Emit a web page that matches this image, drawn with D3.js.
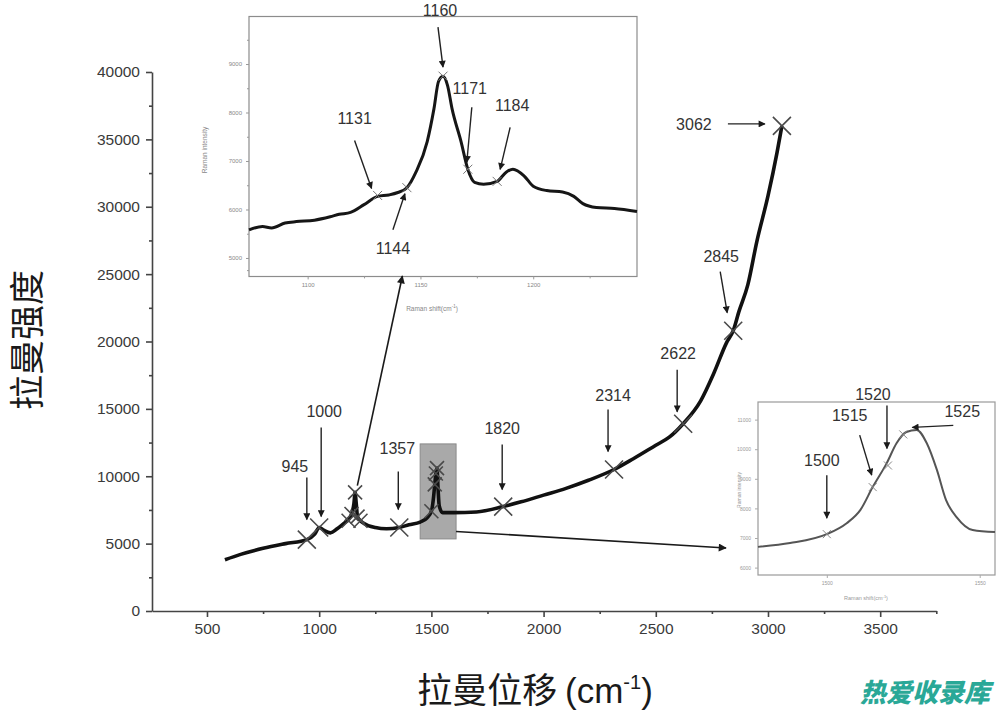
<!DOCTYPE html>
<html><head><meta charset="utf-8">
<script src="https://cdn.jsdelivr.net/npm/d3@7"></script>
<style>body{margin:0;background:#fff}svg{display:block}</style>
</head><body>
<svg id="c" width="1000" height="722"></svg>
<script>
// ---------- DATA ----------
// main spectrum (Raman shift cm-1, intensity)
const mainShift = [580,650,750,850,945,980,1000,1020,1050,1080,1110,1131,1144,1155,1160,1165,1171,1184,1200,1250,1300,1357,1400,1450,1480,1500,1510,1515,1520,1525,1530,1535,1550,1600,1700,1820,1900,2000,2100,2200,2314,2400,2500,2560,2622,2700,2760,2815,2845,2870,2910,2950,3000,3040,3062];
const mainIntensity = [3800,4200,4650,5000,5300,5700,6200,6000,5800,6100,6500,6800,7200,8000,8800,8000,7000,6700,6500,6200,6100,6200,6400,6600,6900,7400,8500,9400,10200,10600,9000,7800,7300,7300,7350,7750,8100,8600,9100,9700,10500,11300,12300,12900,13900,15600,17700,19900,20800,22200,24200,27400,30800,34000,36000];
// marked peaks on main chart
const peakShift = [945,1000,1131,1144,1160,1171,1184,1357,1500,1515,1520,1525,1820,2314,2622,2845,3062];
const peakIntensity = [5300,6200,6700,7200,8800,7000,6700,6200,7400,9400,10200,10600,7750,10500,13900,20800,36000];
const labeledPeaks = ["945","1000","1357","1820","2314","2622","2845","3062"];
const xTicks = [500,1000,1500,2000,2500,3000,3500];
const yTicks = [0,5000,10000,15000,20000,25000,30000,35000,40000];

// inset 1 (1074-1246 cm-1)
const in1Shift = [1074,1080,1084,1090,1095,1103,1110,1114,1119,1125,1131,1136,1140,1144,1148,1153,1156,1158,1160,1162,1164,1168,1171,1174,1178,1184,1188,1191,1196,1200,1206,1213,1218,1222,1228,1236,1246];
const in1Intensity = [5580,5650,5620,5720,5750,5780,5850,5900,5940,6100,6270,6300,6350,6450,6770,7400,8080,8640,8750,8560,8080,7400,6830,6560,6520,6580,6770,6830,6690,6480,6390,6360,6270,6120,6040,6020,5960];
const in1Peaks = ["1131","1144","1160","1171","1184"];
const in1PeakShift = [1131,1144,1160,1171,1184];
const in1PeakIntensity = [6290,6450,8750,6830,6580];
const in1XTicks = [1100,1150,1200];
const in1YTicks = [5000,6000,7000,8000,9000];

// inset 2 (1477-1555 cm-1)
const in2Shift = [1477.5,1488,1500,1506.5,1511,1515,1519.6,1522.8,1526,1529.4,1532.7,1536,1539,1542.5,1547.7,1555];
const in2Intensity = [6700,6830,7130,7500,7950,8720,9530,10200,10580,10650,10200,9300,8280,7700,7270,7200];
const in2Peaks = ["1500","1515","1520","1525"];
const in2PeakShift = [1500,1515,1520,1525];
const in2PeakIntensity = [7130,8720,9450,10500];
const in2XTicks = [1500,1550];
const in2YTicks = [6000,7000,8000,9000,10000,11000];

// ---------- LAYOUT ----------
const svg = d3.select('#c');
const defs = svg.append('defs');
function arrowDef(id,w,h,color){
  defs.append('marker').attr('id',id).attr('viewBox','0 0 10 10').attr('refX',9).attr('refY',5)
    .attr('markerWidth',w).attr('markerHeight',h).attr('markerUnits','userSpaceOnUse').attr('orient','auto')
    .append('path').attr('d','M0,0L10,5L0,10z').attr('fill',color);
}
arrowDef('ah',11,8,'#1a1a1a');
arrowDef('ahs',8,7,'#1a1a1a');

const FONT = "'Liberation Sans', Arial, sans-serif";
const CJK = "'Noto Sans CJK SC', sans-serif";

const x = d3.scaleLinear().domain([255,3750]).range([152,936.3]);
const y = d3.scaleLinear().domain([0,40000]).range([611,72]);

function xMark(g, cx, cy, s, color, w){
  g.append('path').attr('d',`M${cx-s},${cy-s}L${cx+s},${cy+s}M${cx-s},${cy+s}L${cx+s},${cy-s}`)
   .attr('stroke',color).attr('stroke-width',w).attr('fill','none');
}

// main axes
const gx = svg.append('g').attr('transform','translate(0,611)')
  .call(d3.axisBottom(x).tickValues(xTicks).tickSize(6).tickSizeOuter(0).tickPadding(6).tickFormat(d3.format('d')));
const gxm = svg.append('g').attr('transform','translate(0,611)')
  .call(d3.axisBottom(x).tickValues(d3.range(750,3751,500)).tickSize(3).tickSizeOuter(0).tickFormat(''));
gxm.select('.domain').remove();
const gy = svg.append('g').attr('transform','translate(152,0)')
  .call(d3.axisLeft(y).tickValues(yTicks).tickSize(6).tickSizeOuter(0).tickPadding(6).tickFormat(d3.format('d')));
const gym = svg.append('g').attr('transform','translate(152,0)')
  .call(d3.axisLeft(y).tickValues(d3.range(2500,40000,5000)).tickSize(3).tickSizeOuter(0).tickFormat(''));
gym.select('.domain').remove();
[gx,gxm,gy,gym].forEach(g=>{
  g.selectAll('path,line').attr('stroke','#444').attr('stroke-width',1.6);
  g.selectAll('text').attr('font-family',FONT).attr('font-size',15.5).attr('fill','#3a3a3a');
});

// axis titles
svg.append('text').attr('transform','translate(40,340) rotate(-90)').attr('text-anchor','middle')
  .attr('font-family',CJK).attr('font-size',35).attr('fill','#1a1a1a').text('拉曼强度');
const xt = svg.append('text').attr('x',535).attr('y',703).attr('text-anchor','middle')
  .attr('font-family',CJK).attr('font-size',35).attr('fill','#1a1a1a');
xt.append('tspan').text('拉曼位移 ');
xt.append('tspan').attr('font-family',FONT).text('(cm');
xt.append('tspan').attr('font-family',FONT).attr('font-size',20).attr('dy',-14).text('-1');
xt.append('tspan').attr('font-family',FONT).attr('dy',14).text(')');

// grey highlight rectangle around 1500-1525 cluster
svg.append('rect').attr('x',x(1450)).attr('y',y(12400)).attr('width',x(1610)-x(1450)).attr('height',y(5350)-y(12400))
  .attr('fill','#a9a9a9').attr('stroke','#8a8a8a').attr('stroke-width',1);

// main curve
const mainData = mainShift.map((s,i)=>[s,mainIntensity[i]]);
svg.append('path').datum(mainData)
  .attr('d',d3.line().x(d=>x(d[0])).y(d=>y(d[1])).curve(d3.curveMonotoneX))
  .attr('fill','none').attr('stroke','#111').attr('stroke-width',3.6).attr('stroke-linejoin','round');

// main markers
peakShift.forEach((s,i)=>{
  const cluster = (s>1100 && s<1200) || (s>=1500 && s<1530);
  xMark(svg, x(s), y(peakIntensity[i]), cluster?7:9, '#4a4a4a', 1.6);
});

// main labels with arrows (offsets relative to peak point)
const labelOffsets = {
  "945":  {t:[-12,-68], a:[0,-62], b:[0,-20]},
  "1000": {t:[5,-110],  a:[2,-100], b:[2,-11]},
  "1357": {t:[-2,-73],  a:[-1,-56], b:[-1,-18]},
  "1820": {t:[-1,-73],  a:[-1,-62], b:[-1,-17]},
  "2314": {t:[-1,-69],  a:[-6,-60], b:[-6,-18]},
  "2622": {t:[-5,-65],  a:[-6,-54], b:[-6,-12]},
  "2845": {t:[-12,-69], a:[-13,-59], b:[-6,-18]},
  "3062": {t:[-88,4],   a:[-54,-2], b:[-17,-2]}
};
labeledPeaks.forEach(lbl=>{
  const i = peakShift.indexOf(+lbl);
  const px = x(peakShift[i]), py = y(peakIntensity[i]);
  const o = labelOffsets[lbl];
  svg.append('line').attr('x1',px+o.a[0]).attr('y1',py+o.a[1]).attr('x2',px+o.b[0]).attr('y2',py+o.b[1])
    .attr('stroke','#222').attr('stroke-width',1.4).attr('marker-end','url(#ahs)');
  svg.append('text').attr('x',px+o.t[0]).attr('y',py+o.t[1]).attr('text-anchor','middle')
    .attr('font-family',FONT).attr('font-size',16).attr('fill','#333').text(lbl);
});

// ---------- INSET 1 ----------
const ix = d3.scaleLinear().domain([1074,1246]).range([249,637]);
const iy = d3.scaleLinear().domain([4620,9980]).range([276.4,16.5]);
const g1 = svg.append('g');
g1.append('rect').attr('x',249).attr('y',16.5).attr('width',388).attr('height',260)
  .attr('fill','#fff').attr('stroke','#8c8c8c').attr('stroke-width',1.2);
const i1x = g1.append('g').attr('transform','translate(0,276.4)')
  .call(d3.axisBottom(ix).tickValues(in1XTicks).tickSize(3).tickSizeOuter(0).tickPadding(3).tickFormat(d3.format('d')));
const i1xm = g1.append('g').attr('transform','translate(0,276.4)')
  .call(d3.axisBottom(ix).tickValues([1125,1175,1225]).tickSize(2).tickSizeOuter(0).tickFormat(''));
const i1y = g1.append('g').attr('transform','translate(249,0)')
  .call(d3.axisLeft(iy).tickValues(in1YTicks).tickSize(3).tickSizeOuter(0).tickPadding(4).tickFormat(d3.format('d')));
const i1ym = g1.append('g').attr('transform','translate(249,0)')
  .call(d3.axisLeft(iy).tickValues([4750,5500,6500,7500,8500,9500]).tickSize(2).tickSizeOuter(0).tickFormat(''));
[i1x,i1xm,i1y,i1ym].forEach(g=>{
  g.select('.domain').remove();
  g.selectAll('line').attr('stroke','#999').attr('stroke-width',1);
  g.selectAll('text').attr('font-family',FONT).attr('font-size',6).attr('fill','#888');
});
g1.append('text').attr('transform','translate(207,150) rotate(-90)').attr('text-anchor','middle')
  .attr('font-family',FONT).attr('font-size',6.5).attr('fill','#888').text('Raman intensity');
const t1 = g1.append('text').attr('x',432).attr('y',311).attr('text-anchor','middle')
  .attr('font-family',FONT).attr('font-size',6.5).attr('fill','#888');
t1.append('tspan').text('Raman shift(cm');
t1.append('tspan').attr('font-size',4.5).attr('dy',-3).text('-1');
t1.append('tspan').attr('dy',3).text(')');
const in1Data = in1Shift.map((s,i)=>[s,in1Intensity[i]]);
g1.append('path').datum(in1Data)
  .attr('d',d3.line().x(d=>ix(d[0])).y(d=>iy(d[1])).curve(d3.curveMonotoneX))
  .attr('fill','none').attr('stroke','#161616').attr('stroke-width',3).attr('stroke-linejoin','round');
in1PeakShift.forEach((s,i)=>xMark(g1, ix(s), iy(in1PeakIntensity[i]), 4.5, '#777', 1));
const in1Offsets = {
  "1131": {t:[-23,-71], a:[-23,-55], b:[-6,-7]},
  "1144": {t:[-14,66],  a:[-14,42],  b:[-2,6]},
  "1160": {t:[-3,-60],  a:[-5,-49],  b:[0,-9]},
  "1171": {t:[2,-75],   a:[4,-62],   b:[-1,-7]},
  "1184": {t:[15,-70],  a:[13,-54],  b:[3,-12]}
};
in1Peaks.forEach((lbl,i)=>{
  const px = ix(in1PeakShift[i]), py = iy(in1PeakIntensity[i]);
  const o = in1Offsets[lbl];
  g1.append('line').attr('x1',px+o.a[0]).attr('y1',py+o.a[1]).attr('x2',px+o.b[0]).attr('y2',py+o.b[1])
    .attr('stroke','#222').attr('stroke-width',1.4).attr('marker-end','url(#ahs)');
  g1.append('text').attr('x',px+o.t[0]).attr('y',py+o.t[1]).attr('text-anchor','middle')
    .attr('font-family',FONT).attr('font-size',16).attr('fill','#333').text(lbl);
});

// ---------- INSET 2 ----------
const jx = d3.scaleLinear().domain([1477.5,1555]).range([758,995]);
const jy = d3.scaleLinear().domain([5750,11595]).range([575,402]);
const g2 = svg.append('g');
g2.append('rect').attr('x',758).attr('y',402).attr('width',237).attr('height',173)
  .attr('fill','#fff').attr('stroke','#9a9a9a').attr('stroke-width',1.2);
const j2x = g2.append('g').attr('transform','translate(0,575)')
  .call(d3.axisBottom(jx).tickValues(in2XTicks).tickSize(3).tickSizeOuter(0).tickPadding(3).tickFormat(d3.format('d')));
const j2y = g2.append('g').attr('transform','translate(758,0)')
  .call(d3.axisLeft(jy).tickValues(in2YTicks).tickSize(3).tickSizeOuter(0).tickPadding(4).tickFormat(d3.format('d')));
[j2x,j2y].forEach(g=>{
  g.select('.domain').remove();
  g.selectAll('line').attr('stroke','#aaa').attr('stroke-width',1);
  g.selectAll('text').attr('font-family',FONT).attr('font-size',5).attr('fill','#999');
});
g2.append('text').attr('transform','translate(741,490) rotate(-90)').attr('text-anchor','middle')
  .attr('font-family',FONT).attr('font-size',5).attr('fill','#999').text('Raman intensity');
const t2 = g2.append('text').attr('x',866).attr('y',600).attr('text-anchor','middle')
  .attr('font-family',FONT).attr('font-size',5.5).attr('fill','#999');
t2.append('tspan').text('Raman shift(cm');
t2.append('tspan').attr('font-size',4).attr('dy',-2).text('-1');
t2.append('tspan').attr('dy',2).text(')');
const in2Data = in2Shift.map((s,i)=>[s,in2Intensity[i]]);
g2.append('path').datum(in2Data)
  .attr('d',d3.line().x(d=>jx(d[0])).y(d=>jy(d[1])).curve(d3.curveMonotoneX))
  .attr('fill','none').attr('stroke','#555').attr('stroke-width',2).attr('stroke-linejoin','round');
in2PeakShift.forEach((s,i)=>xMark(g2, jx(s), jy(in2PeakIntensity[i]), 4, '#888', 1));
const in2Offsets = {
  "1500": {t:[-5,-68],  a:[0,-59],  b:[0,-16]},
  "1515": {t:[-23,-66], a:[-13,-52], b:[-1,-12]},
  "1520": {t:[-15,-65], a:[-1,-60], b:[-1,-17]},
  "1525": {t:[59,-17],  a:[50,-9],  b:[9,-7]}
};
in2Peaks.forEach((lbl,i)=>{
  const px = jx(in2PeakShift[i]), py = jy(in2PeakIntensity[i]);
  const o = in2Offsets[lbl];
  g2.append('line').attr('x1',px+o.a[0]).attr('y1',py+o.a[1]).attr('x2',px+o.b[0]).attr('y2',py+o.b[1])
    .attr('stroke','#222').attr('stroke-width',1.4).attr('marker-end','url(#ahs)');
  g2.append('text').attr('x',px+o.t[0]).attr('y',py+o.t[1]).attr('text-anchor','middle')
    .attr('font-family',FONT).attr('font-size',16).attr('fill','#333').text(lbl);
});

// ---------- CONNECTOR ARROWS ----------
svg.append('line').attr('x1',x(1170)).attr('y1',y(9300)).attr('x2',ix(1142)).attr('y2',276)
  .attr('stroke','#1a1a1a').attr('stroke-width',1.6).attr('marker-end','url(#ah)');
svg.append('line').attr('x1',x(1610)).attr('y1',y(5900)).attr('x2',758-32).attr('y2',548)
  .attr('stroke','#1a1a1a').attr('stroke-width',1.6).attr('marker-end','url(#ah)');

// watermark
svg.append('text').attr('x',990).attr('y',702).attr('text-anchor','end')
  .attr('font-family',CJK).attr('font-weight',900).attr('font-style','italic').attr('font-size',26)
  .attr('fill','#2aa897').text('热爱收录库');
</script>
</body></html>
